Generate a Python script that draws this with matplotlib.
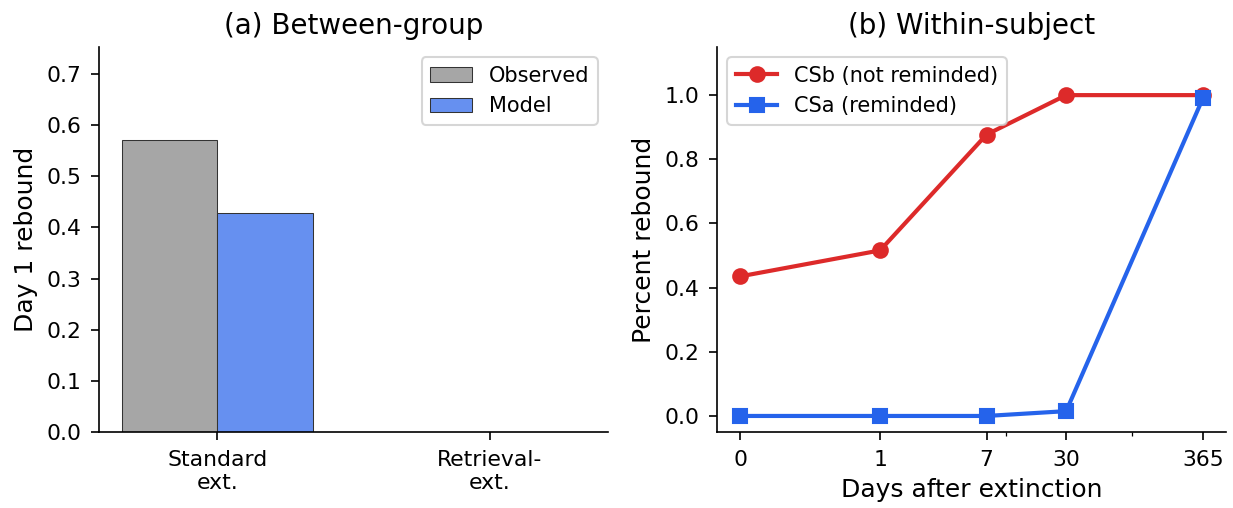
import numpy as np
import matplotlib
matplotlib.use("Agg")
from matplotlib import pyplot as plt

# (a) between-group
groups = ["Standard\next.", "Retrieval-\next."]
observed = [0.571, 0.0]
model = [0.428, 0.0]

# (b) within-subject
days = [0, 1, 7, 30, 365]
csb = [0.435, 0.516, 0.877, 1.0, 1.0]
csa = [0.0, 0.0, 0.0, 0.015, 0.99]

DPI = 150
fig = plt.figure(figsize=(1233/DPI, 508/DPI), dpi=DPI)
ax1 = fig.add_axes([99/1233, 1-432/508, 509/1233, 385/508])
ax2 = fig.add_axes([717/1233, 1-432/508, 509/1233, 385/508])

x = np.arange(len(groups))
w = 0.35
ax1.bar(x - w/2, observed, w, color="#a6a6a6", edgecolor="#333333", linewidth=0.5, label="Observed")
ax1.bar(x + w/2, model, w, color="#6690f0", edgecolor="#333333", linewidth=0.5, label="Model")
ax1.set_xticks(x)
ax1.set_xticklabels(groups)
ax1.set_ylim(0, 0.753)
ax1.set_ylabel("Day 1 rebound", fontsize=12)
ax1.set_title("(a) Between-group", fontsize=13.3)
ax1.legend(loc="upper right", fontsize=10)

ax2.plot(days, csb, "-o", color="#dd2a2a", lw=2, ms=7, label="CSb (not reminded)")
ax2.plot(days, csa, "-s", color="#2563eb", lw=2, ms=7, label="CSa (reminded)")
ax2.set_xscale("symlog", linthresh=1)
ax2.set_xticks(days)
ax2.set_xticklabels([str(d) for d in days])
ax2.set_ylim(-0.05, 1.15)
ax2.set_yticks([0.0, 0.2, 0.4, 0.6, 0.8, 1.0])
ax2.set_xlabel("Days after extinction", fontsize=12)
ax2.set_ylabel("Percent rebound", fontsize=12)
ax2.set_title("(b) Within-subject", fontsize=13.3)
ax2.legend(loc="upper left", fontsize=10)

for ax in (ax1, ax2):
    ax.tick_params(which="major", labelsize=10.5, length=4, pad=4.5)
    ax.spines["top"].set_visible(False)
    ax.spines["right"].set_visible(False)

fig.savefig("out.png", dpi=DPI)
